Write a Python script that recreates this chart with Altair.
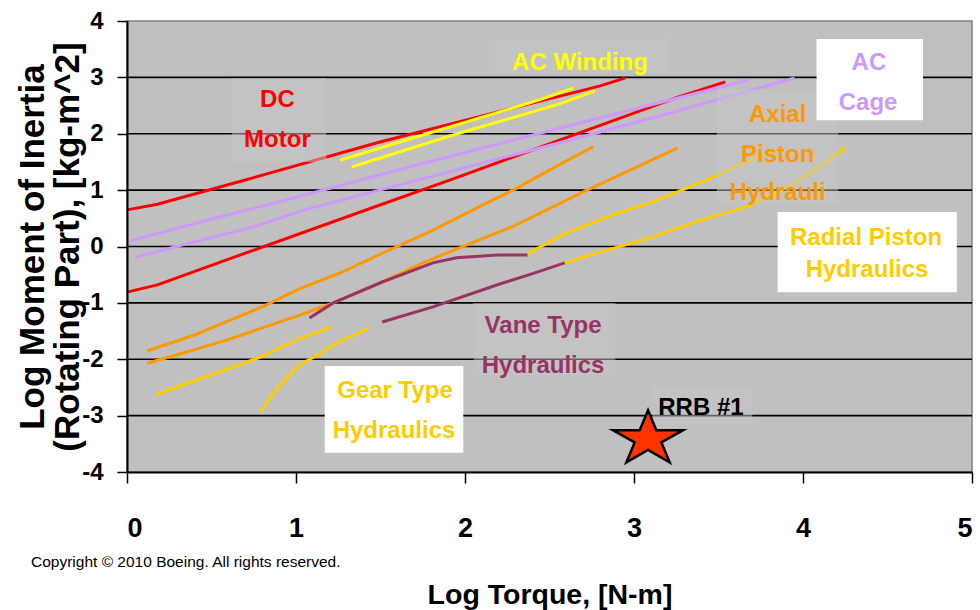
import altair as alt
import pandas as pd

FONT = "Liberation Sans, Arial, sans-serif"

# ---- series data (Log torque, Log inertia) ----
dc_up_x = [0, 0.18, 0.70, 1.48, 2.08, 2.80, 2.95]
dc_up_y = [0.65, 0.75, 1.18, 1.84, 2.30, 2.85, 2.99]
dc_lo_x = [0, 0.18, 0.54, 1.36, 1.93, 2.82, 3.26, 3.54]
dc_lo_y = [-0.81, -0.68, -0.29, 0.59, 1.20, 2.17, 2.65, 2.92]
cage_up_x = [0.02, 0.53, 0.90, 1.38, 2.13, 2.64, 3.67]
cage_up_y = [0.10, 0.51, 0.79, 1.18, 1.77, 2.16, 2.95]
cage_lo_x = [0.05, 0.42, 0.76, 1.04, 2.80, 3.24, 3.95]
cage_lo_y = [-0.19, 0.10, 0.36, 0.64, 2.03, 2.39, 2.99]
wind_up_x = [1.26, 1.60, 2.44, 2.64]
wind_up_y = [1.53, 1.84, 2.60, 2.81]
wind_lo_x = [1.33, 1.91, 2.56, 2.77]
wind_lo_y = [1.41, 1.96, 2.53, 2.76]
axial_up_x = [0.12, 0.40, 0.80, 1.02, 1.26, 1.51, 1.79, 2.08, 2.31, 2.52, 2.76]
axial_up_y = [-1.85, -1.57, -1.07, -0.75, -0.47, -0.12, 0.26, 0.70, 1.04, 1.39, 1.77]
axial_lo_x = [0.12, 0.25, 0.59, 1.02, 1.22, 1.51, 1.75, 2.11, 2.28, 2.70, 3.26]
axial_lo_y = [-2.07, -1.96, -1.66, -1.22, -1.00, -0.63, -0.29, 0.15, 0.35, 0.97, 1.75]
vane_up_x = [1.08, 1.22, 1.51, 1.81, 1.95, 2.19, 2.37]
vane_up_y = [-1.27, -1.00, -0.63, -0.29, -0.20, -0.15, -0.15]
vane_lo_x = [1.51, 1.81, 2.21, 2.40, 2.59]
vane_lo_y = [-1.34, -1.07, -0.66, -0.48, -0.29]
radial_up_x = [2.37, 2.60, 2.90, 3.09, 3.39, 3.79, 3.85]
radial_up_y = [-0.13, 0.24, 0.59, 0.77, 1.13, 1.66, 1.72]
radial_lo_x = [2.59, 2.80, 3.09, 3.39, 3.69, 3.98, 4.25]
radial_lo_y = [-0.29, -0.10, 0.15, 0.46, 0.73, 1.17, 1.75]
gear_a_x = [0.17, 0.43, 0.79, 1.00, 1.21]
gear_a_y = [-2.63, -2.35, -1.96, -1.66, -1.43]
gear_b_x = [0.79, 0.85, 0.95, 1.02, 1.13, 1.24, 1.43]
gear_b_y = [-2.94, -2.67, -2.31, -2.10, -1.92, -1.71, -1.45]

series = [
    ("dc_up", "#FF0000", dc_up_x, dc_up_y),
    ("dc_lo", "#FF0000", dc_lo_x, dc_lo_y),
    ("cage_up", "#CC99FF", cage_up_x, cage_up_y),
    ("cage_lo", "#CC99FF", cage_lo_x, cage_lo_y),
    ("axial_up", "#FF9900", axial_up_x, axial_up_y),
    ("axial_lo", "#FF9900", axial_lo_x, axial_lo_y),
    ("radial_up", "#FFCC00", radial_up_x, radial_up_y),
    ("radial_lo", "#FFCC00", radial_lo_x, radial_lo_y),
    ("vane_up", "#993366", vane_up_x, vane_up_y),
    ("vane_lo", "#993366", vane_lo_x, vane_lo_y),
    ("gear_a", "#FFCC00", gear_a_x, gear_a_y),
    ("gear_b", "#FFCC00", gear_b_x, gear_b_y),
    ("wind_up", "#FFFF00", wind_up_x, wind_up_y),
    ("wind_lo", "#FFFF00", wind_lo_x, wind_lo_y),
]
rows = []
for sid, col, xs_, ys_ in series:
    for i, (xv, yv) in enumerate(zip(xs_, ys_)):
        rows.append({"sid": sid, "color": col, "x": xv, "y": yv, "i": i})
lines_df = pd.DataFrame(rows)

# ---- plot-area background and horizontal grid lines ----
bg_df = pd.DataFrame({"px": [0], "px2": [5], "py": [4], "py2": [-4]})
grid_vals = [-3, -2, -1, 0, 1, 2, 3]
grid_ends = [0, 5]
grid_df = pd.DataFrame([{"gid": g, "gx": e, "gy": g} for g in grid_vals for e in grid_ends])

# ---- label boxes: semi-transparent grey (DC, AC Winding, Axial, Vane, RRB) ----
gbox_x = [0.62, 2.18, 3.49, 2.05, 3.11]
gbox_x2 = [1.18, 3.20, 4.21, 2.89, 3.70]
gbox_y = [2.99, 3.68, 2.79, -1.00, -2.46]
gbox_y2 = [1.50, 3.10, 0.74, -2.28, -3.17]
gbox_df = pd.DataFrame({"bx": gbox_x, "bx2": gbox_x2, "by": gbox_y, "by2": gbox_y2})
# ---- white label boxes (AC Cage, Radial Piston, Gear Type) ----
wbox_x = [4.08, 3.85, 1.17]
wbox_x2 = [4.71, 4.91, 1.99]
wbox_y = [3.68, 0.61, -2.12]
wbox_y2 = [2.24, -0.81, -3.66]
wbox_df = pd.DataFrame({"wx": wbox_x, "wx2": wbox_x2, "wy": wbox_y, "wy2": wbox_y2})

# ---- label texts ----
lab_text = ["DC", "Motor", "AC Winding", "AC", "Cage", "Axial", "Piston", "Hydrauli",
            "Radial Piston", "Hydraulics", "Vane Type", "Hydraulics",
            "Gear Type", "Hydraulics", "RRB #1"]
lab_x = [0.89, 0.89, 2.68, 4.39, 4.385, 3.85, 3.85, 3.85,
         4.373, 4.379, 2.462, 2.462, 1.586, 1.58, 3.396]
lab_y = [2.475, 1.765, 3.131, 3.131, 2.421, 2.214, 1.504, 0.825,
         0.027, -0.541, -1.534, -2.244, -2.687, -3.397, -2.989]
lab_col = ["#FF0000", "#FF0000", "#FFFF00", "#CC99FF", "#CC99FF", "#FF9900", "#FF9900", "#FF9900",
           "#FFCC00", "#FFCC00", "#993366", "#993366", "#FFCC00", "#FFCC00", "#000000"]
labels_df = pd.DataFrame({"t": lab_text, "x": lab_x, "y": lab_y, "c": lab_col})

# ---- RRB #1 point ----
star_df = pd.DataFrame({"x": [3.083], "y": [-3.415]})

xs = alt.Scale(domain=[0, 5], nice=False, zero=False)
ys = alt.Scale(domain=[-4, 4], nice=False, zero=False)

x_axis = alt.Axis(values=[0, 1, 2, 3, 4, 5], labelExpr="'' + datum.value", grid=False, zindex=1,
                  tickSize=11, tickWidth=1.5, tickColor="black", domainColor="black",
                  domainWidth=2, labelFont=FONT, labelFontWeight="bold", labelFontSize=27,
                  labelColor="black", labelPadding=32, title="Log Torque, [N-m]",
                  titleFont=FONT, titleFontWeight="bold", titleFontSize=28.5, titleColor="black",
                  titleBaseline="alphabetic", titleY=131, titleX=422.5, titleAlign="center",
                  titleAnchor="middle")
y_axis = alt.Axis(values=[-4, -3, -2, -1, 0, 1, 2, 3, 4], labelExpr="'' + datum.value",
                  grid=False, zindex=1,
                  tickSize=10, tickWidth=1.5, tickColor="black", domainColor="black",
                  domainWidth=2, labelFont=FONT, labelFontWeight="bold", labelFontSize=24,
                  labelColor="black", labelPadding=14,
                  title=["Log Moment of Inertia", "(Rotating Part), [kg-m^2]"],
                  titleFont=FONT, titleFontWeight="bold", titleFontSize=35, titleColor="black",
                  titleAngle=270, titleBaseline="alphabetic", titleLineHeight=35,
                  titleX=-84, titleY=225.5, titleAlign="center", titleAnchor="middle")

background = alt.Chart(bg_df).mark_rect(fill="#C0C0C0", stroke="#808080", strokeWidth=1.5).encode(
    x=alt.X("px:Q", scale=xs, axis=x_axis), x2="px2:Q",
    y=alt.Y("py:Q", scale=ys, axis=y_axis), y2="py2:Q")

grid = alt.Chart(grid_df).mark_line(color="black", strokeWidth=1.6).encode(
    x=alt.X("gx:Q", scale=xs),
    y=alt.Y("gy:Q", scale=ys),
    detail="gid:N")

lines = alt.Chart(lines_df).mark_line(strokeWidth=3).encode(
    x=alt.X("x:Q", scale=xs),
    y=alt.Y("y:Q", scale=ys),
    color=alt.Color("color:N", scale=None),
    detail="sid:N",
    order="i:Q")

gboxes = alt.Chart(gbox_df).mark_rect(fill="#C6C6C6", opacity=0.5).encode(
    x=alt.X("bx:Q", scale=xs), x2="bx2:Q",
    y=alt.Y("by:Q", scale=ys), y2="by2:Q")

wboxes = alt.Chart(wbox_df).mark_rect(fill="#FFFFFF").encode(
    x=alt.X("wx:Q", scale=xs), x2="wx2:Q",
    y=alt.Y("wy:Q", scale=ys), y2="wy2:Q")

texts = alt.Chart(labels_df).mark_text(font=FONT, fontWeight="bold", fontSize=24,
                                       align="center", baseline="alphabetic").encode(
    x=alt.X("x:Q", scale=xs), y=alt.Y("y:Q", scale=ys),
    text="t:N", color=alt.Color("c:N", scale=None))

star_path = ("M0,-0.821 L0.237,-0.254 L1,-0.254 L0.382,0.097 L0.618,0.664 L0,0.314 "
             "L-0.618,0.664 L-0.382,0.097 L-1,-0.254 L-0.237,-0.254 Z")
star = alt.Chart(star_df).mark_point(shape=star_path, filled=True, size=4900, fill="#FF3300",
                                     stroke="black", strokeWidth=2.5, opacity=1).encode(
    x=alt.X("x:Q", scale=xs), y=alt.Y("y:Q", scale=ys))

copyright_txt = alt.Chart(pd.DataFrame({"t": ["Copyright \u00a9 2010 Boeing. All rights reserved."]})
                          ).mark_text(font=FONT, fontSize=15.5, align="left", baseline="alphabetic",
                                      color="black").encode(
    x=alt.value(-96), y=alt.value(546), text="t:N")

chart = alt.layer(background, grid, lines, gboxes, wboxes, texts, star, copyright_txt).properties(
    width=845, height=451,
    autosize=alt.AutoSizeParams(type="none"),
    padding={"left": 127, "top": 21, "right": 8, "bottom": 138},
).configure_view(strokeWidth=0)

chart.save("out.html", embed_options={"renderer": "svg", "actions": False})
